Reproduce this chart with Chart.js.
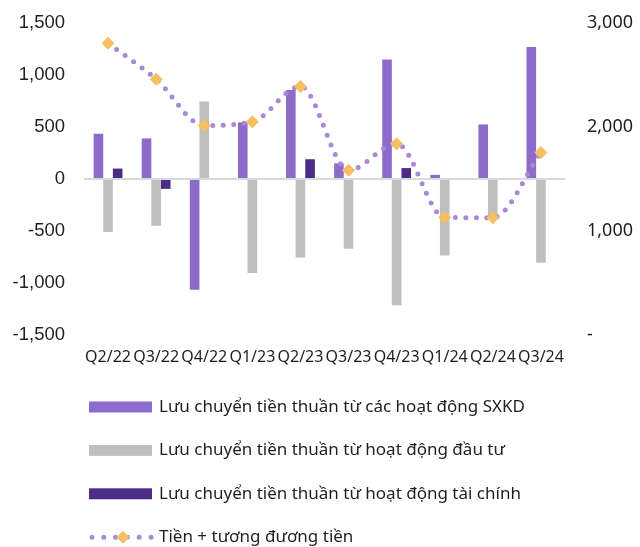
<!DOCTYPE html>
<html>
<head>
<meta charset="utf-8">
<script src="https://cdn.jsdelivr.net/npm/chart.js@4.4.1/dist/chart.umd.min.js"></script>
<style>
  html, body { margin: 0; padding: 0; background: #ffffff; }
  #wrap { width: 640px; height: 547px; position: relative; }
</style>
</head>
<body>
<div id="wrap"><canvas id="c" width="640" height="547"></canvas></div>
<script>
const categories = ["Q2/22","Q3/22","Q4/22","Q1/23","Q2/23","Q3/23","Q4/23","Q1/24","Q2/24","Q3/24"];
const operating  = [435, 390, -1065, 545, 855, 150, 1150, 40, 525, 1270];
const investing  = [-510, -450, 745, -905, -755, -670, -1215, -735, -360, -805];
const financing  = [100, -95, 0, 0, 190, 0, 105, 0, 0, 0];
const cashEquiv  = [2805, 2460, 2015, 2050, 2390, 1585, 1840, 1130, 1128, 1755];
const seriesNames = [
  "Lưu chuyển tiền thuần từ các hoạt động SXKD",
  "Lưu chuyển tiền thuần từ hoạt động đầu tư",
  "Lưu chuyển tiền thuần từ hoạt động tài chính",
  "Tiền + tương đương tiền"
];
const leftTicks = [-1500, -1000, -500, 0, 500, 1000, 1500];
const rightTicks = [0, 1000, 2000, 3000];

const C_OP = '#8c6bca', C_INV = '#bfbfbf', C_FIN = '#4b2d85', C_LINE = '#a988d5', C_DIA = '#f6bf62';
const TXT = '#1f1f1f';
const ROUND_FONT = '"Noto Sans", "Open Sans", sans-serif';

const legendPlugin = {
  id: 'customLegend',
  afterDraw(chart) {
    const ctx = chart.ctx;
    const ca = chart.chartArea;
    const startY = ca.bottom + 72;
    const rowGap = 43.4;
    const boxX = 89, boxW = 63, boxH = 11, textX = 159;
    const ds = chart.data.datasets;
    ctx.save();
    ctx.font = '17px ' + ROUND_FONT;
    ctx.textBaseline = 'middle';
    ctx.textAlign = 'left';
    ds.forEach((d, i) => {
      const y = startY + i * rowGap;
      if (d.type === 'line') {
        ctx.save();
        ctx.strokeStyle = d.borderColor;
        ctx.lineWidth = d.borderWidth;
        ctx.lineCap = 'round';
        ctx.setLineDash([0, 11.8]);
        ctx.beginPath();
        ctx.moveTo(boxX + 3, y);
        ctx.lineTo(boxX + boxW, y);
        ctx.stroke();
        ctx.restore();
        const cx = boxX + 34, r = 6.5;
        ctx.fillStyle = d.pointBackgroundColor;
        ctx.beginPath();
        ctx.moveTo(cx, y - r); ctx.lineTo(cx + r, y); ctx.lineTo(cx, y + r); ctx.lineTo(cx - r, y);
        ctx.closePath(); ctx.fill();
      } else {
        ctx.fillStyle = d.backgroundColor;
        ctx.fillRect(boxX, y - boxH / 2, boxW, boxH);
      }
      ctx.fillStyle = TXT;
      ctx.fillText(d.label, textX, y);
    });
    ctx.restore();
  }
};

new Chart(document.getElementById('c'), {
  type: 'bar',
  data: {
    labels: categories,
    datasets: [
      { label: seriesNames[0], data: operating, backgroundColor: C_OP, yAxisID: 'y', order: 1 },
      { label: seriesNames[1], data: investing, backgroundColor: C_INV, yAxisID: 'y', order: 1 },
      { label: seriesNames[2], data: financing, backgroundColor: C_FIN, yAxisID: 'y', order: 1 },
      { type: 'line', label: seriesNames[3], data: cashEquiv, yAxisID: 'y1', order: 0,
        borderColor: C_LINE, borderWidth: 5, borderDash: [0, 10.5], borderCapStyle: 'round',
        cubicInterpolationMode: 'monotone', fill: false,
        pointStyle: 'rectRot', pointRadius: 6.5, pointBackgroundColor: C_DIA, pointBorderWidth: 0 }
    ]
  },
  options: {
    responsive: false,
    animation: false,
    devicePixelRatio: 1,
    layout: { padding: { top: 23, bottom: 172, left: 0, right: 0 } },
    datasets: { bar: { categoryPercentage: 0.6, barPercentage: 1.0, borderWidth: 0 } },
    plugins: { legend: { display: false }, tooltip: { enabled: false } },
    scales: {
      x: {
        grid: { display: false, drawTicks: false },
        border: { display: false },
        ticks: { color: TXT, font: { family: ROUND_FONT, size: 16 }, padding: 13, maxRotation: 0, autoSkip: false },
        afterFit(s) { s.height = 40; }
      },
      y: {
        position: 'left', min: leftTicks[0], max: leftTicks[leftTicks.length - 1],
        afterBuildTicks(s) { s.ticks = leftTicks.map(v => ({ value: v })); },
        grid: { drawTicks: true, tickLength: 19, tickColor: 'rgba(0,0,0,0)', lineWidth: 2,
                color: c => (c.tick && c.tick.value === 0) ? '#d9d9d9' : 'rgba(0,0,0,0)' },
        border: { display: false },
        ticks: { color: TXT, padding: 0, font: { family: '"Liberation Sans", Arial, sans-serif', size: 18.5 },
                 callback: v => v.toLocaleString('en-US') },
        afterFit(s) { s.width = 84; }
      },
      y1: {
        position: 'right', min: rightTicks[0], max: rightTicks[rightTicks.length - 1],
        afterBuildTicks(s) { s.ticks = rightTicks.map(v => ({ value: v })); },
        grid: { display: true, drawOnChartArea: false, drawTicks: true, tickLength: 22, tickColor: 'rgba(0,0,0,0)' },
        border: { display: false },
        ticks: { color: TXT, padding: 0, font: { family: ROUND_FONT, size: 18 },
                 callback: v => v === 0 ? '-' : v.toLocaleString('en-US') },
        afterFit(s) { s.width = 75; }
      }
    }
  },
  plugins: [legendPlugin]
});
</script>
</body>
</html>
